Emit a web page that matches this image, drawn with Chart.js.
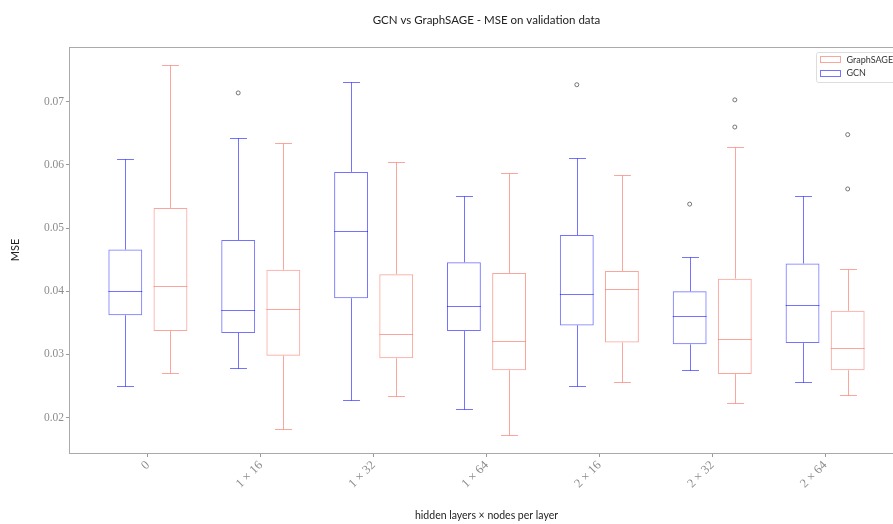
<!DOCTYPE html>
<html>
<head>
<meta charset="utf-8">
<script src="https://cdn.jsdelivr.net/npm/chart.js@4.4.0/dist/chart.umd.min.js"></script>
<style>
html, body { margin: 0; padding: 0; overflow: hidden; background: #fff; }
#wrap { width: 910px; height: 524px; }
</style>
</head>
<body>
<div id="wrap"><canvas id="chartMse" width="910" height="524"></canvas></div>
<script>
// catégories et graduations
const categories = ["0", "1 × 16", "1 × 32", "1 × 64", "2 × 16", "2 × 32", "2 × 64"];
const yTicks = [0.02, 0.03, 0.04, 0.05, 0.06, 0.07];

// GCN : moustache basse, q1, médiane, q3, moustache haute, points aberrants
const gcnLow = [0.0250, 0.0278, 0.0228, 0.0213, 0.0250, 0.0275, 0.0256];
const gcnQ1 = [0.0362, 0.0334, 0.0389, 0.0337, 0.0346, 0.0316, 0.0318];
const gcnMedian = [0.0400, 0.0370, 0.0495, 0.0376, 0.0395, 0.0361, 0.0378];
const gcnQ3 = [0.0466, 0.0481, 0.0589, 0.0446, 0.0489, 0.0400, 0.0444];
const gcnHigh = [0.0609, 0.0643, 0.0732, 0.0551, 0.0611, 0.0455, 0.0551];
const gcnOutliers = [[], [0.0714], [], [], [0.0727], [0.0538], []];

// GraphSAGE
const sageLow = [0.0270, 0.0182, 0.0234, 0.0173, 0.0256, 0.0223, 0.0236];
const sageQ1 = [0.0337, 0.0298, 0.0294, 0.0275, 0.0319, 0.0269, 0.0275];
const sageMedian = [0.0409, 0.0372, 0.0332, 0.0321, 0.0403, 0.0324, 0.0310];
const sageQ3 = [0.0532, 0.0434, 0.0427, 0.0429, 0.0432, 0.0420, 0.0369];
const sageHigh = [0.0758, 0.0635, 0.0604, 0.0587, 0.0584, 0.0628, 0.0436];
const sageOutliers = [[], [], [], [], [], [0.0660, 0.0703], [0.0562, 0.0648]];

const gcnColor = 'rgba(0, 0, 255, 0.55)';
const sageColor = 'rgba(250, 128, 114, 0.7)';

const series = [
    { label: 'GCN', color: gcnColor, q1: gcnQ1, q3: gcnQ3, low: gcnLow, median: gcnMedian, high: gcnHigh, outliers: gcnOutliers },
    { label: 'GraphSAGE', color: sageColor, q1: sageQ1, q3: sageQ3, low: sageLow, median: sageMedian, high: sageHigh, outliers: sageOutliers }
];

const crisp = v => Math.round(v) + 0.5;

// moustaches, médianes et points aberrants
const moustaches = {
    id: 'moustaches',
    afterDatasetsDraw(chart) {
        const ctx = chart.ctx;
        const y = chart.scales.y;
        ctx.save();
        series.forEach((s, di) => {
            const meta = chart.getDatasetMeta(di);
            meta.data.forEach((bar, i) => {
                const cx = crisp(bar.x);
                const half = bar.width / 2;
                const cap = bar.width / 4;
                const boxTop = y.getPixelForValue(s.q3[i]);
                const boxBottom = y.getPixelForValue(s.q1[i]);
                const lo = crisp(y.getPixelForValue(s.low[i]));
                const hi = crisp(y.getPixelForValue(s.high[i]));
                const med = crisp(y.getPixelForValue(s.median[i]));
                ctx.strokeStyle = s.color;
                ctx.lineWidth = 1;
                ctx.beginPath();
                ctx.moveTo(cx, hi); ctx.lineTo(cx, boxTop);
                ctx.moveTo(cx, boxBottom); ctx.lineTo(cx, lo);
                ctx.moveTo(cx - cap, hi); ctx.lineTo(cx + cap, hi);
                ctx.moveTo(cx - cap, lo); ctx.lineTo(cx + cap, lo);
                ctx.moveTo(bar.x - half, med); ctx.lineTo(bar.x + half, med);
                ctx.stroke();
                ctx.strokeStyle = '#555';
                ctx.lineWidth = 0.8;
                s.outliers[i].forEach(v => {
                    ctx.beginPath();
                    ctx.arc(bar.x, y.getPixelForValue(v), 2, 0, Math.PI * 2);
                    ctx.stroke();
                });
            });
        });
        ctx.restore();
    }
};

// cadre et légende
const cadre = {
    id: 'cadre',
    afterDraw(chart) {
        const ctx = chart.ctx;
        const a = chart.chartArea;
        ctx.save();
        ctx.strokeStyle = '#aaaaaa';
        ctx.lineWidth = 1;
        ctx.strokeRect(crisp(a.left) - 1, crisp(a.top), Math.round(a.right - a.left), Math.round(a.bottom - a.top));

        const lx = a.right - 87;
        const ly = a.top + 5;
        ctx.fillStyle = 'rgba(255,255,255,0.8)';
        ctx.strokeStyle = '#dddddd';
        ctx.beginPath();
        ctx.roundRect(crisp(lx), crisp(ly), 100, 30, 2);
        ctx.fill();
        ctx.stroke();
        const items = [series[1], series[0]];
        ctx.font = '9px Lato';
        ctx.textBaseline = 'middle';
        items.forEach((s, k) => {
            const ry = ly + 4.5 + k * 13.6;
            ctx.strokeStyle = s.color;
            ctx.strokeRect(crisp(lx + 4), crisp(ry), 20, 6);
            ctx.fillStyle = '#333';
            ctx.fillText(s.label, lx + 30.5, ry + 3.5);
        });
        ctx.restore();
    }
};

const tickColor = '#8c8c8c';

new Chart(document.getElementById('chartMse'), {
    type: 'bar',
    data: {
        datasets: series.map(s => ({
            label: s.label,
            data: categories.map((c, i) => ({ x: i, y: [s.q1[i], s.q3[i]] })),
            backgroundColor: 'rgba(0,0,0,0)',
            borderColor: s.color,
            borderWidth: 1,
            borderSkipped: false,
            categoryPercentage: 0.8,
            barPercentage: 0.75
        }))
    },
    options: {
        responsive: false,
        animation: false,
        events: [],
        layout: { padding: { left: 0, right: 7, top: 0, bottom: 0 } },
        plugins: {
            legend: { display: false },
            tooltip: { enabled: false },
            title: {
                display: true,
                fullSize: false,
                text: 'GCN vs GraphSAGE - MSE on validation data',
                color: '#222',
                font: { family: 'Lato', size: 11.5, weight: 'normal' },
                padding: { top: 13, bottom: 20 }
            }
        },
        scales: {
            x: {
                type: 'linear',
                min: -0.69,
                max: 6.69,
                offset: false,
                afterBuildTicks: ax => { ax.ticks = categories.map((c, i) => ({ value: i })); },
                afterFit: ax => { ax.height = 71; },
                ticks: {
                    autoSkip: false,
                    minRotation: 45,
                    maxRotation: 45,
                    padding: 1,
                    color: tickColor,
                    font: { family: 'Liberation Serif', size: 12.5 },
                    callback: v => categories[v]
                },
                grid: { display: true, offset: false, drawOnChartArea: false, tickLength: 4, color: '#999' },
                border: { display: false },
                title: {
                    display: true,
                    text: 'hidden layers × nodes per layer',
                    color: '#222',
                    font: { family: 'Lato', size: 10.5 },
                    padding: { bottom: 2 }
                }
            },
            y: {
                min: 0.0144,
                max: 0.0787,
                afterBuildTicks: ax => { ax.ticks = yTicks.map(v => ({ value: v })); },
                afterFit: ax => { ax.width = 70; },
                ticks: {
                    padding: 2,
                    color: tickColor,
                    font: { family: 'Liberation Serif', size: 11.5 },
                    callback: v => v.toFixed(2)
                },
                grid: { display: true, drawOnChartArea: false, tickLength: 4, color: '#999' },
                border: { display: false },
                title: {
                    display: true,
                    text: 'MSE',
                    color: '#222',
                    font: { family: 'Lato', size: 11 },
                    padding: { top: 9 }
                }
            }
        }
    },
    plugins: [moustaches, cadre]
});
</script>
</body>
</html>
